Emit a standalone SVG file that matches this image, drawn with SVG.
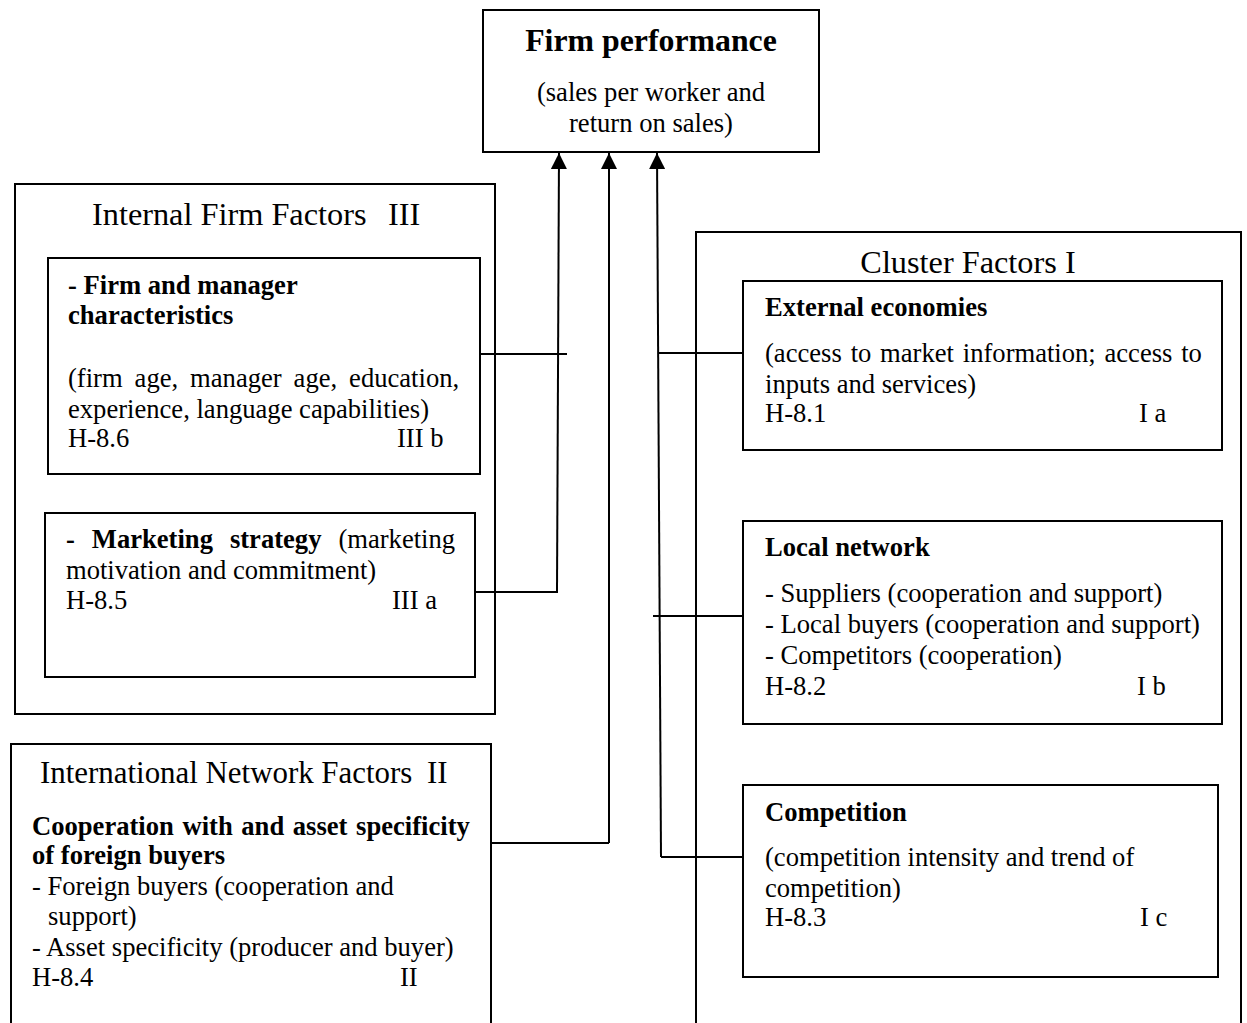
<svg xmlns="http://www.w3.org/2000/svg" width="1247" height="1023" viewBox="0 0 1247 1023">
  <style>
    .box { fill: #ffffff; stroke: #000000; stroke-width: 2; }
    .wire { fill: none; stroke: #000000; stroke-width: 2; }
    text { font-family: "Liberation Serif", "Times New Roman", serif; fill: #000000; }
    .t { font-size: 26.6px; }
    .b { font-size: 26.6px; font-weight: bold; }
    .h { font-size: 32.3px; }
    .hs { font-size: 30.9px; }
    .hb { font-size: 31.8px; font-weight: bold; }
  </style>
  <defs>
    <!-- solid triangular head; x axis of the marker follows the line direction -->
    <marker id="head" viewBox="0 0 16 16" refX="16" refY="8" markerWidth="16" markerHeight="16" markerUnits="userSpaceOnUse" orient="auto">
      <path d="M0,0 L16,8 L0,16 Z" fill="#000000"/>
    </marker>
  </defs>

  <rect width="1247" height="1023" fill="#ffffff"/>

  <!-- outcome -->
  <g id="firm-performance">
    <rect class="box" x="483" y="10" width="336" height="142"/>
    <text class="hb" x="651" y="51" text-anchor="middle">Firm performance</text>
    <text class="t" x="651" y="101" text-anchor="middle">(sales per worker and</text>
    <text class="t" x="651" y="132" text-anchor="middle">return on sales)</text>
  </g>

  <!-- group III -->
  <g id="internal-firm-factors">
    <rect class="box" x="15" y="184" width="480" height="530"/>
    <text class="h" x="92" y="225">Internal Firm Factors<tspan x="388">III</tspan></text>
  </g>

  <g id="firm-manager">
    <rect class="box" x="48" y="258" width="432" height="216"/>
    <text class="b" x="68" y="294">- Firm and manager</text>
    <text class="b" x="68" y="324">characteristics</text>
    <text class="t" y="387"><tspan x="68">(firm</tspan><tspan x="134.6">age,</tspan><tspan x="190.1">manager</tspan><tspan x="293.6">age,</tspan><tspan x="349.1">education,</tspan></text>
    <text class="t" x="68" y="418">experience, language capabilities)</text>
    <text class="t" x="68" y="447">H-8.6</text>
    <text class="t" x="397" y="447">III b</text>
  </g>

  <g id="marketing-strategy">
    <rect class="box" x="45" y="513" width="430" height="164"/>
    <text class="t" y="548"><tspan x="66" class="b">-</tspan><tspan x="91.8" class="b">Marketing</tspan><tspan x="229.9" class="b">strategy</tspan><tspan x="338.4">(marketing</tspan></text>
    <text class="t" x="66" y="579">motivation and commitment)</text>
    <text class="t" x="66" y="609">H-8.5</text>
    <text class="t" x="392" y="609">III a</text>
  </g>

  <!-- group II -->
  <g id="international-network">
    <rect class="box" x="11" y="744" width="480" height="290"/>
    <text class="hs" x="40" y="783">International Network Factors<tspan x="427">II</tspan></text>
    <text class="b" y="835"><tspan x="32">Cooperation</tspan><tspan x="182.5">with</tspan><tspan x="241.3">and</tspan><tspan x="292.8">asset</tspan><tspan x="356.1">specificity</tspan></text>
    <text class="b" x="32" y="864">of foreign buyers</text>
    <text class="t" x="32" y="895">- Foreign buyers (cooperation and</text>
    <text class="t" x="48" y="925">support)</text>
    <text class="t" x="32" y="956">- Asset specificity (producer and buyer)</text>
    <text class="t" x="32" y="986">H-8.4</text>
    <text class="t" x="400" y="986">II</text>
  </g>

  <!-- group I -->
  <g id="cluster-factors">
    <rect class="box" x="696" y="232" width="545" height="810"/>
    <text class="h" x="968" y="273" text-anchor="middle">Cluster Factors I</text>
  </g>

  <g id="external-economies">
    <rect class="box" x="743" y="281" width="479" height="169"/>
    <text class="b" x="765" y="316">External economies</text>
    <text class="t" y="362"><tspan x="765">(access</tspan><tspan x="850.7">to</tspan><tspan x="880.1">market</tspan><tspan x="962.8">information;</tspan><tspan x="1104.5">access</tspan><tspan x="1181.2">to</tspan></text>
    <text class="t" x="765" y="393">inputs and services)</text>
    <text class="t" x="765" y="422">H-8.1</text>
    <text class="t" x="1139" y="422">I a</text>
  </g>

  <g id="local-network">
    <rect class="box" x="743" y="521" width="479" height="203"/>
    <text class="b" x="765" y="556">Local network</text>
    <text class="t" x="765" y="602">- Suppliers (cooperation and support)</text>
    <text class="t" x="765" y="633">- Local buyers (cooperation and support)</text>
    <text class="t" x="765" y="664">- Competitors (cooperation)</text>
    <text class="t" x="765" y="695">H-8.2</text>
    <text class="t" x="1137" y="695">I b</text>
  </g>

  <g id="competition">
    <rect class="box" x="743" y="785" width="475" height="192"/>
    <text class="b" x="765" y="821">Competition</text>
    <text class="t" x="765" y="866">(competition intensity and trend of</text>
    <text class="t" x="765" y="897">competition)</text>
    <text class="t" x="765" y="926">H-8.3</text>
    <text class="t" x="1140" y="926">I c</text>
  </g>

  <!-- links into firm performance -->
  <g id="connectors">
    <line class="wire" x1="557" y1="592" x2="559" y2="153" marker-end="url(#head)"/>
    <line class="wire" x1="480" y1="354" x2="567" y2="354"/>
    <line class="wire" x1="475" y1="592" x2="558" y2="592"/>

    <line class="wire" x1="609" y1="843" x2="609" y2="153" marker-end="url(#head)"/>
    <line class="wire" x1="491" y1="843" x2="609" y2="843"/>

    <line class="wire" x1="661" y1="857" x2="657" y2="153" marker-end="url(#head)"/>
    <line class="wire" x1="658" y1="353" x2="743" y2="353"/>
    <line class="wire" x1="653" y1="616" x2="743" y2="616"/>
    <line class="wire" x1="661" y1="857" x2="743" y2="857"/>
  </g>
</svg>
